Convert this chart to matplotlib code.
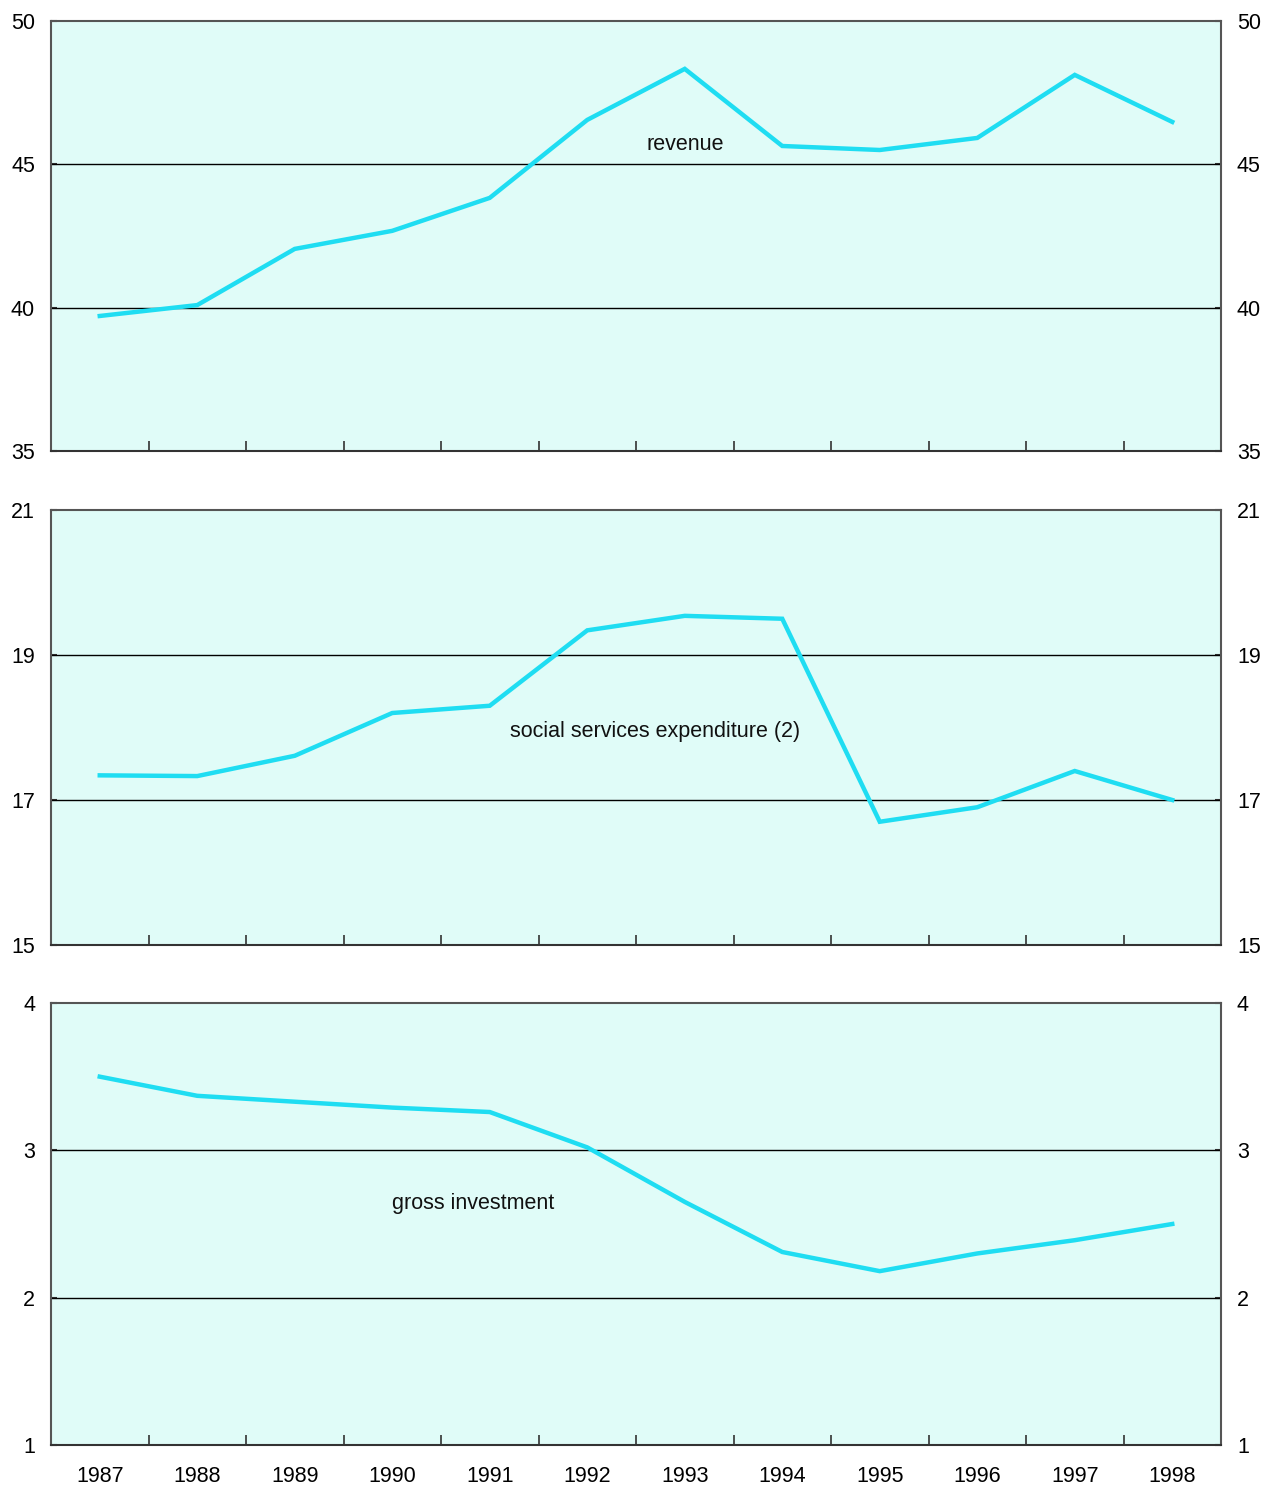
import matplotlib
matplotlib.use("Agg")
import matplotlib.pyplot as plt
import numpy as np

plt.rcParams['font.family'] = ['Liberation Sans', 'DejaVu Sans']

years = ["1987", "1988", "1989", "1990", "1991", "1992",
         "1993", "1994", "1995", "1996", "1997", "1998"]

revenue = [39.71, 40.09, 42.05, 42.68, 43.83, 46.55,
           48.33, 45.64, 45.50, 45.92, 48.12, 46.48]
social_services = [17.34, 17.33, 17.61, 18.20, 18.30, 19.34,
                   19.54, 19.50, 16.70, 16.90, 17.40, 17.00]
gross_investment = [3.50, 3.37, 3.33, 3.29, 3.26, 3.02,
                    2.65, 2.31, 2.18, 2.30, 2.39, 2.50]

panels = [
    dict(values=revenue, label="revenue", yticks=[35, 40, 45, 50],
         label_pos=(6.0, 45.7)),
    dict(values=social_services, label="social services expenditure (2)",
         yticks=[15, 17, 19, 21], label_pos=(5.7, 17.95)),
    dict(values=gross_investment, label="gross investment",
         yticks=[1, 2, 3, 4], label_pos=(3.83, 2.64)),
]

bg = "#E0FCF8"
line_color = "#1FDDF2"
fs = 15.5

fig = plt.figure(figsize=(12.65, 14.86), dpi=100)
left, right = 51 / 1265, 1221 / 1265
rows = [(21, 451), (510, 945), (1003, 1445)]

x = np.arange(len(years))
for i, (p, (top_px, bot_px)) in enumerate(zip(panels, rows)):
    b = 1 - bot_px / 1486
    h = (bot_px - top_px) / 1486
    ax = fig.add_axes([left, b, right - left, h])
    ax.set_facecolor(bg)
    ax.plot(x, p["values"], color=line_color, lw=3.2, solid_joinstyle="miter",
            zorder=3)
    ax.set_xlim(-0.5, len(years) - 0.5)
    ax.set_ylim(p["yticks"][0], p["yticks"][-1])
    ax.set_yticks(p["yticks"])
    for yv in p["yticks"][1:-1]:
        ax.axhline(yv, color="black", lw=1.0, zorder=2)
    ax.tick_params(axis="y", which="both", left=True, right=True,
                   labelleft=True, labelright=True, direction="in",
                   length=4, width=1.5, color="#333333", labelsize=fs,
                   pad=11.5)
    # year boundaries carry the tick marks; year names sit at the centres
    ax.set_xticks(np.arange(0.5, len(years) - 0.5, 1.0))
    ax.set_xticklabels([])
    ax.tick_params(axis="x", which="major", direction="in", length=7,
                   width=1.2, color="#333333", bottom=True, top=False)
    if i == len(panels) - 1:
        ax.set_xticks(x, minor=True)
        ax.set_xticklabels(years, minor=True)
        ax.tick_params(axis="x", which="minor", length=0, labelsize=fs,
                       pad=15)
    for s in ax.spines.values():
        s.set_color("#555555")
        s.set_linewidth(1.5)
    ax.spines["bottom"].set_color("#333333")
    ax.text(p["label_pos"][0], p["label_pos"][1], p["label"], ha="center",
            va="center", fontsize=fs, color="#111111", zorder=4)

fig.savefig("out.png", dpi=100, facecolor="white")
